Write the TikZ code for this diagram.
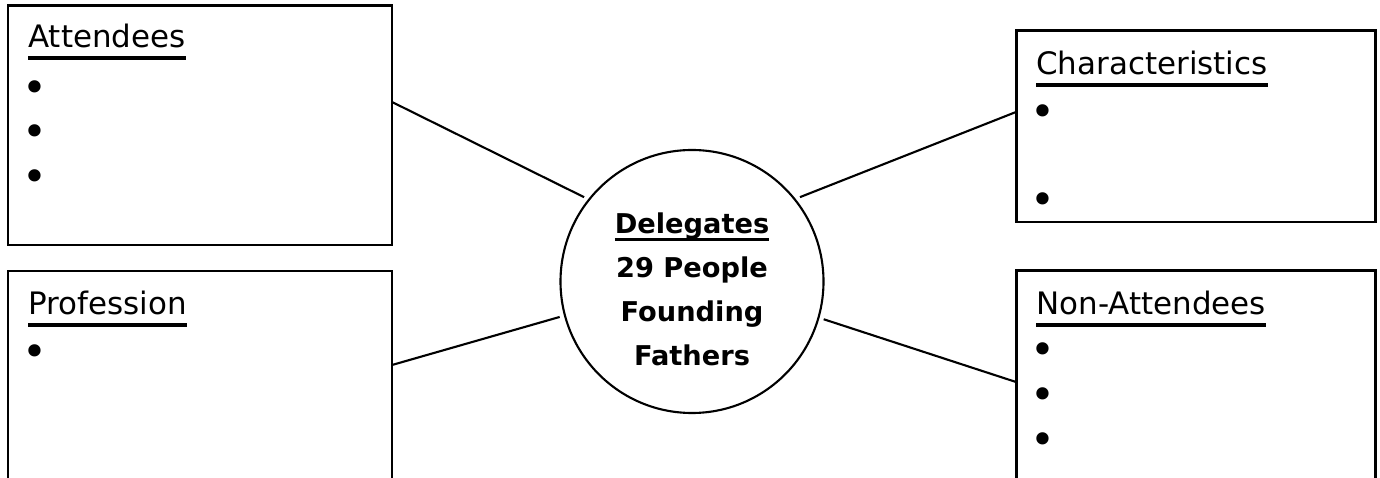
\documentclass[tikz,border=0pt]{standalone}
\usepackage{fontspec}
\setmainfont{DejaVu Sans}
\usetikzlibrary{positioning, calc}

% underlined word: depth of the rule, thickness, text
\newcommand{\ulined}[3]{\setbox0\hbox{#3}\rlap{\rule[-#1]{\wd0}{#2}}\box0}

\begin{document}
\begin{tikzpicture}[
  topicbox/.style={draw, line width=1.7pt, rectangle, anchor=north west, inner sep=0pt, outer sep=0pt},
  hubcircle/.style={draw, line width=1.2pt, circle, minimum size=5.26cm, inner sep=0pt, outer sep=0.11cm},
  topictitle/.style={anchor=base west, inner sep=0pt, font=\fontsize{17.6}{20}\selectfont},
  dotitem/.style={anchor=center, inner sep=0pt, yshift=-2.2pt, font=\fontsize{24}{24}\selectfont},
  spoke/.style={line width=1.2pt}
]
  \useasboundingbox (0,0) rectangle (27.6,9.56);
  \clip (0,0) rectangle (27.6,9.56);

  % Attendees box
  \node[topicbox, minimum width=7.68cm, minimum height=4.79cm] (att) at (0.16, 9.45) {};
  \node[topictitle] (atttitle) at ($(att.north west)+(0.4,-0.85)$) {\ulined{6.6pt}{1.9pt}{Attendees}};
  \foreach \y [count=\i] in {-1.65, -2.53, -3.43} {
    \node[dotitem] (attdot\i) at ($(att.north west)+(0.54,\y)$) {•};
  }

  % Profession box (runs off the bottom)
  \node[topicbox, minimum width=7.68cm, minimum height=5cm] (prof) at (0.16, 4.14) {};
  \node[topictitle] (proftitle) at ($(prof.north west)+(0.4,-0.88)$) {\ulined{6.6pt}{1.9pt}{Profession}};
  \node[dotitem] (profdot1) at ($(prof.north west)+(0.54,-1.62)$) {•};

  % Characteristics box
  \node[topicbox, minimum width=7.18cm, minimum height=3.83cm] (char) at (20.32, 8.95) {};
  \node[topictitle] (chartitle) at ($(char.north west)+(0.4,-0.89)$) {\ulined{6.6pt}{1.9pt}{Characteristics}};
  \foreach \y [count=\i] in {-1.63, -3.39} {
    \node[dotitem] (chardot\i) at ($(char.north west)+(0.54,\y)$) {•};
  }

  % Non-Attendees box (runs off the bottom)
  \node[topicbox, minimum width=7.18cm, minimum height=5cm] (nonatt) at (20.32, 4.15) {};
  \node[topictitle] (nonatttitle) at ($(nonatt.north west)+(0.4,-0.89)$) {\ulined{6.6pt}{1.9pt}{Non-Attendees}};
  \foreach \y [count=\i] in {-1.59, -2.49, -3.39} {
    \node[dotitem] (nonattdot\i) at ($(nonatt.north west)+(0.54,\y)$) {•};
  }

  % Hub circle
  \node[hubcircle] (deleg) at (13.84, 3.93) {};
  \node[align=center, inner sep=0pt, font=\bfseries\fontsize{15.5}{25}\selectfont] (delegtext)
    at ([yshift=-0.16cm]deleg.center) {\ulined{3.9pt}{1.7pt}{Delegates}\\29 People\\Founding\\Fathers};

  % Spokes
  \coordinate (attport) at ($(att.north east)+(0,-1.93)$);
  \coordinate (profport) at ($(prof.north east)+(0,-1.88)$);
  \coordinate (charport) at ($(char.north west)+(0,-1.63)$);
  \coordinate (nonattport) at ($(nonatt.north west)+(0,-2.23)$);
  \draw[spoke] (attport) -- (deleg.142);
  \draw[spoke] (profport) -- (deleg.195);
  \draw[spoke] (charport) -- (deleg.38);
  \draw[spoke] (nonattport) -- (deleg.344.5);
\end{tikzpicture}
\end{document}
